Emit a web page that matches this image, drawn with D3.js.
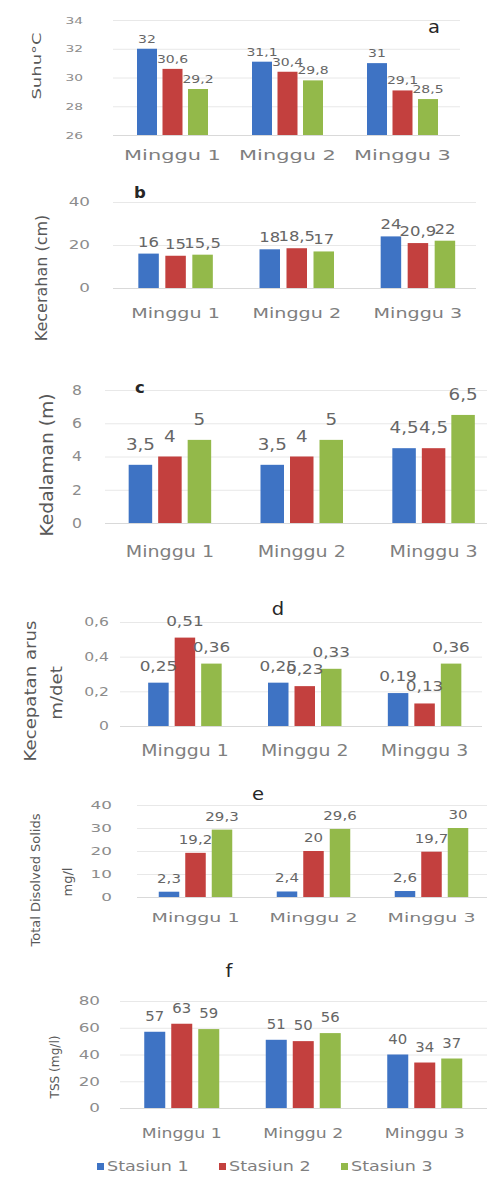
<!DOCTYPE html>
<html>
<head>
<meta charset="utf-8">
<script src="https://cdn.jsdelivr.net/npm/d3@7"></script>
<style>
  body { margin: 0; background: #fff; }
  text { font-family: "DejaVu Sans", sans-serif; }
</style>
</head>
<body>
<script>
// ---- data (per station, per week) ----
var categories = ["Minggu 1", "Minggu 2", "Minggu 3"];
var stations = ["Stasiun 1", "Stasiun 2", "Stasiun 3"];
var colors = ["#3e73c4", "#c3403e", "#93b94a"];

var suhu      = [[32, 31.1, 31], [30.6, 30.4, 29.1], [29.2, 29.8, 28.5]];
var kecerahan = [[16, 18, 24], [15, 18.5, 20.9], [15.5, 17, 22]];
var kedalaman = [[3.5, 3.5, 4.5], [4, 4, 4.5], [5, 5, 6.5]];
var arus      = [[0.25, 0.25, 0.19], [0.51, 0.23, 0.13], [0.36, 0.33, 0.36]];
var tds       = [[2.3, 2.4, 2.6], [19.2, 20, 19.7], [29.3, 29.6, 30]];
var tss       = [[57, 51, 40], [63, 50, 34], [59, 56, 37]];

var suhuTicks = [26, 28, 30, 32, 34];
var kecerahanTicks = [0, 20, 40];
var kedalamanTicks = [0, 2, 4, 6, 8];
var arusTicks = [0, 0.2, 0.4, 0.6];
var tdsTicks = [0, 10, 20, 30, 40];
var tssTicks = [0, 20, 40, 60, 80];

var letters = ["a", "b", "c", "d", "e", "f"];
var titles = [["Suhu°C"], ["Kecerahan (cm)"], ["Kedalaman (m)"],
              ["Kecepatan arus", "m/det"], ["Total Disolved Solids", "mg/l"], ["TSS (mg/l)"]];

var values = [suhu, kecerahan, kedalaman, arus, tds, tss];
var ticks = [suhuTicks, kecerahanTicks, kedalamanTicks, arusTicks, tdsTicks, tssTicks];

// ---- layout of each small chart (pixels) ----
var layout = [
  { top: 20,  bottom: 135,  gx: [113, 460], band: [115, 460],   bw: 20,   bs: 25.5,
    tickX: 83,  tickSize: 9.5, tickK: 1.45, catY: 160,  catSize: 13.5, catK: 1.55,
    labSize: 10,  labK: 1.4,  gap: 6,
    letter: [434, 33, 17, 1.15, 400], title: [[37, 66]], titleSize: 12, titleK: 1.5 },
  { top: 202, bottom: 288,  gx: [113, 476], band: [115, 478.5], bw: 20.5, bs: 27,
    tickX: 90,  tickSize: 12,  tickK: 1.4,  catY: 318,  catSize: 14.5, catK: 1.32,
    labSize: 13.5, labK: 1.22, gap: 7,
    letter: [140, 198, 15, 1.1, 700], title: [[41, 278]], titleSize: 16, titleK: 1.0 },
  { top: 390, bottom: 523,  gx: [105, 487], band: [104, 499.5], bw: 23.5, bs: 29.5,
    tickX: 82,  tickSize: 13.5, tickK: 1.16, catY: 557, catSize: 16, catK: 1.19,
    labSize: 15.5, labK: 1.18, gap: 15,
    letter: [140, 393, 15, 1.1, 700], title: [[47, 465]], titleSize: 17.5, titleK: 1.07 },
  { top: 622, bottom: 726,  gx: [120, 482], band: [125, 484.5], bw: 20.5, bs: 26.5,
    tickX: 109, tickSize: 12,  tickK: 1.3,  catY: 756,  catSize: 15.5, catK: 1.22,
    labSize: 13.5, labK: 1.25, gap: 12,
    letter: [278, 615, 17, 1.15, 400], title: [[30, 691], [56, 693]], titleSize: 16.5, titleK: 1.1 },
  { top: 805, bottom: 897,  gx: [137, 487], band: [136.5, 490.5], bw: 20.5, bs: 26.5,
    tickX: 112, tickSize: 10.5, tickK: 1.6, catY: 922,  catSize: 12.5, catK: 1.52,
    labSize: 12.5, labK: 1.2, gap: 9,
    letter: [258, 800, 17, 1.15, 400], title: [[36, 880], [68, 882]], titleSize: 12.5, titleK: 1.04 },
  { top: 1001, bottom: 1108, gx: [120, 487], band: [121, 485.5], bw: 21, bs: 27,
    tickX: 100, tickSize: 12,  tickK: 1.4,  catY: 1138, catSize: 14.5, catK: 1.19,
    labSize: 13.5, labK: 1.1, gap: 11,
    letter: [229, 977, 17, 1.15, 400], title: [[55, 1067]], titleSize: 12.5, titleK: 0.97 }
];

var W = 487, H = 1177;
var fmt = d3.formatLocale({ decimal: ",", thousands: ".", grouping: [3], currency: ["", ""] }).format("~g");

var svg = d3.select("body").append("svg")
    .attr("width", W)
    .attr("height", H);

function place(x, y, k, rot) {
    return "translate(" + x + "," + y + ")" + (rot ? " rotate(" + rot + ")" : "") + " scale(" + k + ",1)";
}

layout.forEach(function(L, i) {
    var data = values[i];
    var g = svg.append("g").attr("class", "panel-" + letters[i]);

    var y = d3.scaleLinear()
        .domain(d3.extent(ticks[i]))
        .range([L.bottom, L.top]);

    var x0 = d3.scaleBand()
        .domain(categories)
        .range(L.band);

    var pIn = 1 - L.bw / L.bs;
    var mid = x0.bandwidth() / 2;
    var x1 = d3.scaleBand()
        .domain(stations)
        .range([mid - 1.5 * L.bs, mid + 1.5 * L.bs])
        .paddingInner(pIn)
        .paddingOuter(pIn / 2);

    // gridlines + tick labels
    var axis = d3.axisLeft(y)
        .tickValues(ticks[i])
        .tickSize(-(L.gx[1] - L.gx[0]))
        .tickPadding((L.gx[0] - L.tickX) / L.tickK)
        .tickFormat(fmt);

    var ax = g.append("g")
        .attr("transform", "translate(" + L.gx[0] + ",0)")
        .call(axis);
    ax.select(".domain").remove();
    ax.selectAll(".tick line")
        .attr("stroke", function(d, j) { return j === 0 ? "#d9d9d9" : "#e8e8e8"; });
    ax.selectAll(".tick text")
        .attr("font-family", "DejaVu Sans")
        .attr("font-size", L.tickSize)
        .attr("fill", "#8c8c8c")
        .attr("transform", "scale(" + L.tickK + ",1)");

    // bars
    var rows = [];
    stations.forEach(function(s, si) {
        categories.forEach(function(c, ci) {
            rows.push({ station: s, si: si, cat: c, v: data[si][ci] });
        });
    });

    g.append("g").selectAll("rect")
        .data(rows)
        .enter().append("rect")
        .attr("x", function(d) { return x0(d.cat) + x1(d.station); })
        .attr("y", function(d) { return y(d.v); })
        .attr("width", x1.bandwidth())
        .attr("height", function(d) { return y.range()[0] - y(d.v); })
        .attr("fill", function(d) { return colors[d.si]; });

    // value labels
    g.append("g").selectAll("text")
        .data(rows)
        .enter().append("text")
        .attr("text-anchor", "middle")
        .attr("font-size", L.labSize)
        .attr("fill", "#666")
        .attr("transform", function(d) {
            return place(x0(d.cat) + x1(d.station) + x1.bandwidth() / 2, y(d.v) - L.gap, L.labK);
        })
        .text(function(d) { return fmt(d.v); });

    // category labels
    g.append("g").selectAll("text")
        .data(categories)
        .enter().append("text")
        .attr("text-anchor", "middle")
        .attr("font-size", L.catSize)
        .attr("fill", "#7f7f7f")
        .attr("transform", function(d) { return place(x0(d) + mid, L.catY, L.catK); })
        .text(function(d) { return d; });

    // panel letter
    g.append("text")
        .attr("text-anchor", "middle")
        .attr("font-size", L.letter[2])
        .attr("font-weight", L.letter[4])
        .attr("fill", "#262626")
        .attr("transform", place(L.letter[0], L.letter[1], L.letter[3]))
        .text(letters[i]);

    // y axis title (rotated)
    titles[i].forEach(function(t, ti) {
        g.append("text")
            .attr("text-anchor", "middle")
            .attr("dy", "0.35em")
            .attr("font-size", L.titleSize)
            .attr("fill", "#595959")
            .attr("transform", place(L.title[ti][0], L.title[ti][1], L.titleK, -90))
            .text(t);
    });
});

// legend
var legendX = d3.scaleBand()
    .domain(stations)
    .range([97, 463]);

var leg = svg.append("g").selectAll("g")
    .data(stations)
    .enter().append("g")
    .attr("transform", function(d) { return "translate(" + legendX(d) + ",1167)"; });

leg.append("rect")
    .attr("x", 0)
    .attr("y", -4)
    .attr("width", 7)
    .attr("height", 7)
    .attr("fill", function(d, i) { return colors[i]; });

leg.append("text")
    .attr("transform", place(10, 4, 1.3))
    .attr("font-size", 13.5)
    .attr("fill", "#7f7f7f")
    .text(function(d) { return d; });
</script>
</body>
</html>
